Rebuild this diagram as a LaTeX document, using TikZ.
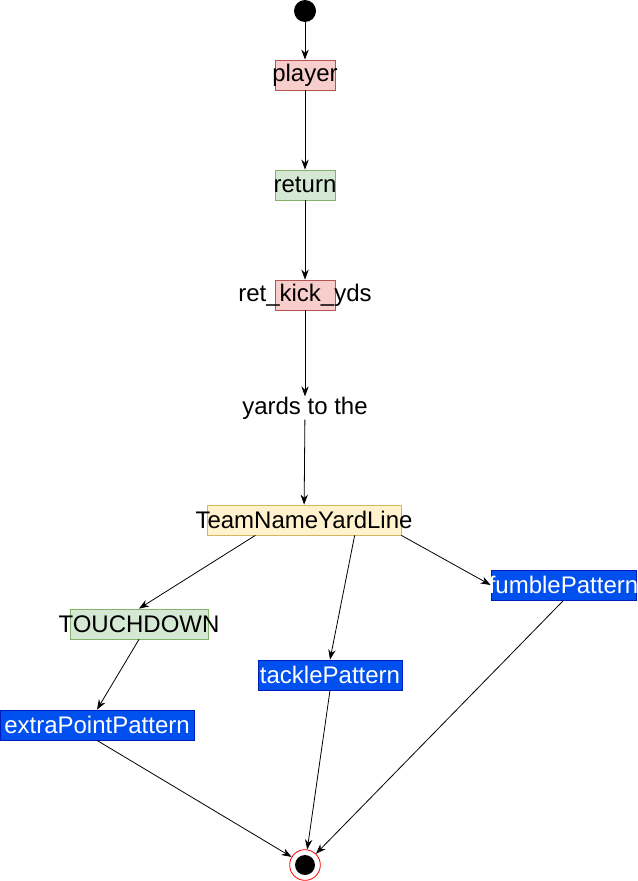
\documentclass[tikz,border=0pt]{standalone}
\usepackage{fontspec}
\setmainfont{Liberation Sans}
\usetikzlibrary{arrows.meta, calc}

\definecolor{redfill}{HTML}{F8CECC}
\definecolor{redline}{HTML}{B85450}
\definecolor{greenfill}{HTML}{D5E8D4}
\definecolor{greenline}{HTML}{82B366}
\definecolor{yellowfill}{HTML}{FFF2CC}
\definecolor{yellowline}{HTML}{D6B656}
\definecolor{bluefill}{HTML}{0050EF}
\definecolor{blueline}{HTML}{001DBC}

\newcommand{\spill}[1]{\makebox[0pt]{#1}}

\tikzset{
  flow/.style={-{Stealth[length=7.5pt,width=5.5pt]}, line width=0.6pt},
  statebox/.style={rectangle, draw, line width=0.6pt, inner sep=0pt, minimum height=22.5pt, minimum width=#1},
  redbox/.style={statebox=#1, draw=redline, fill=redfill},
  greenbox/.style={statebox=#1, draw=greenline, fill=greenfill},
  yellowbox/.style={statebox=#1, draw=yellowline, fill=yellowfill},
  bluebox/.style={statebox=#1, draw=blueline, fill=bluefill, text=white},
}

\begin{document}
\begin{tikzpicture}[x=0.75pt, y=-0.75pt, font=\fontsize{18}{21}\selectfont]
    \useasboundingbox (0,0) rectangle (638,881);
    \node[circle, fill=black, inner sep=0pt, minimum size=16.5pt] at (305,11) (init) {};
    \node[redbox=45pt] at (305,75) (player) {\spill{player}};
    \node[greenbox=45pt] at (305,185) (return) {\spill{return}};
    \node[redbox=45pt] at (305,295) (retyds) {\spill{ret\_kick\_yds}};
    \node[inner sep=0pt, minimum height=17pt] at (305,408) (yards) {yards to the};
    \node[yellowbox=145.5pt] at (304,520) (tnyl) {\spill{TeamNameYardLine}};
    \node[greenbox=103.5pt] at (139,624) (touchdown) {\spill{TOUCHDOWN}};
    \node[bluebox=108.75pt] at (563.5,585) (fumble) {\spill{fumblePattern}};
    \node[bluebox=108pt] at (330,675) (tackle) {\spill{tacklePattern}};
    \node[bluebox=145.5pt] at (97,725) (extra) {\spill{extraPointPattern}};
    \node[circle, draw=red, line width=0.6pt, fill=white, inner sep=0pt, minimum size=23pt] at (305,865) (final) {};
    \node[circle, fill=black, inner sep=0pt, minimum size=15pt] at (final) (finaldot) {};
    % main line
    \draw[flow] (init) -- (player);
    \draw[flow] (player) -- (return);
    \draw[flow] (return) -- (retyds);
    \draw[flow] (retyds) -- (yards);
    \draw[flow] (yards) -- (tnyl);
    % branches
    \draw[flow] ($(tnyl.south west)!0.25!(tnyl.south east)$) -- (touchdown.north);
    \draw[flow] ($(tnyl.south west)!0.76!(tnyl.south east)$) -- (tackle.north);
    \draw[flow] (tnyl.south east) -- (fumble.west);
    \draw[flow] (touchdown.south) -- (extra.north);
    \draw[flow] (extra.south) -- (final);
    \draw[flow] (tackle.south) -- (final);
    \draw[flow] (fumble.south) -- (final);
\end{tikzpicture}
\end{document}
